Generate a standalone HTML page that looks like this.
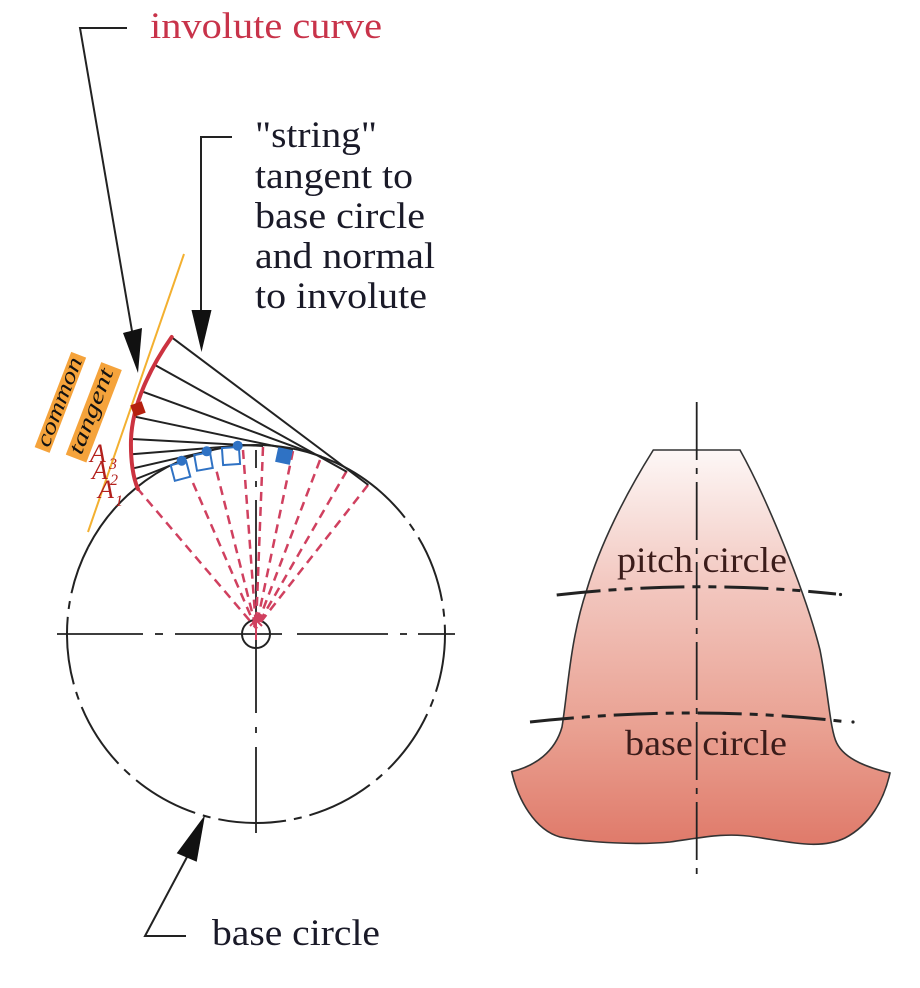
<!DOCTYPE html>
<html><head><meta charset="utf-8"><style>
html,body{margin:0;padding:0;background:#fff;}
svg{display:block;}
</style></head><body>
<svg width="920" height="988" viewBox="0 0 920 988" xmlns="http://www.w3.org/2000/svg">
<defs>
<linearGradient id="tg" x1="0" y1="450" x2="0" y2="850" gradientUnits="userSpaceOnUse">
<stop offset="0" stop-color="#fdf7f6"/>
<stop offset="0.35" stop-color="#f2c6be"/>
<stop offset="0.7" stop-color="#e9a091"/>
<stop offset="1" stop-color="#df7868"/>
</linearGradient>
</defs>

<!-- ===== Left diagram ===== -->
<!-- base circle -->
<path d="M88.2 547 A189 189 0 0 1 404.9 517.6" fill="none" stroke="#222" stroke-width="2"/>
<path d="M404.9 517.6 A189 189 0 1 1 88.2 547" fill="none" stroke="#222" stroke-width="2" stroke-dasharray="68 8 8 8" stroke-dashoffset="68"/>

<!-- centre lines -->
<g stroke="#222" stroke-width="1.8">
<line x1="57" y1="634" x2="143" y2="634"/>
<line x1="155" y1="634" x2="163" y2="634"/>
<line x1="175" y1="634" x2="282" y2="634"/>
<line x1="297" y1="634" x2="388" y2="634"/>
<line x1="400" y1="634" x2="407" y2="634"/>
<line x1="418" y1="634" x2="455" y2="634"/>
<line x1="256" y1="450" x2="256" y2="468"/>
<line x1="256" y1="481" x2="256" y2="487"/>
<line x1="256" y1="500" x2="256" y2="713"/>
<line x1="256" y1="727" x2="256" y2="733"/>
<line x1="256" y1="747" x2="256" y2="833"/>
</g>
<circle cx="256" cy="634" r="14" fill="none" stroke="#222" stroke-width="2"/>

<!-- red dashed radii -->
<g stroke="#d0405f" stroke-width="2.5" stroke-dasharray="9 6" fill="none">
<line x1="137" y1="488" x2="256" y2="628"/>
<line x1="193" y1="483" x2="256" y2="628"/>
<line x1="216.7" y1="471.7" x2="256" y2="628"/>
<line x1="243" y1="450" x2="256" y2="628"/>
<line x1="263" y1="447" x2="256" y2="628"/>
<line x1="293" y1="451" x2="256" y2="628"/>
<line x1="320" y1="460" x2="256" y2="628"/>
<line x1="346.7" y1="471" x2="256" y2="628"/>
<line x1="368" y1="485" x2="256" y2="628"/>
</g>
<g stroke="#d0405f" stroke-width="2" fill="none">
<line x1="256" y1="622" x2="256" y2="640"/>
<line x1="250" y1="626" x2="256" y2="620"/>
<line x1="262" y1="626" x2="256" y2="620"/>
</g>

<!-- strings -->
<g stroke="#222" stroke-width="2" fill="none">
<line x1="171.7" y1="337.3" x2="368.3" y2="485"/>
<line x1="155" y1="365" x2="346.7" y2="471.7"/>
<line x1="142.7" y1="391.7" x2="321.7" y2="456.7"/>
<line x1="135" y1="416.7" x2="293" y2="450"/>
<line x1="131.7" y1="439" x2="263" y2="446"/>
<line x1="131.7" y1="454.3" x2="237.7" y2="445.7"/>
<line x1="133.3" y1="468.3" x2="206.7" y2="451.5"/>
<line x1="136" y1="479" x2="181.7" y2="461"/>
</g>

<!-- involute curve -->
<path d="M171.7 337 C150 368 132 405 131 440 C130.5 460 133 478 138 489" fill="none" stroke="#cc3340" stroke-width="4" stroke-linecap="round"/>

<!-- orange common tangent -->
<line x1="184" y1="254" x2="88" y2="532" stroke="#f3b030" stroke-width="2"/>

<!-- red square marker -->
<rect x="-6" y="-6" width="12" height="12" fill="#b5200f" transform="translate(138,409) rotate(-20)"/>

<!-- blue markers -->
<g fill="none" stroke="#2f72c4" stroke-width="2">
<rect x="-8" y="-8" width="16" height="16" transform="translate(180.5,471) rotate(-15)"/>
<rect x="-8" y="-8" width="16" height="16" transform="translate(203.5,461.5) rotate(-10)"/>
<rect x="-8.5" y="-8.5" width="17" height="17" transform="translate(231,456) rotate(-4)"/>
</g>
<g fill="#2f72c4">
<circle cx="181.7" cy="460.7" r="5"/>
<circle cx="206.7" cy="451.3" r="5"/>
<circle cx="237.7" cy="445.7" r="5"/>
<rect x="-7.5" y="-7.5" width="15" height="15" transform="translate(284,456) rotate(12)"/>
</g>

<!-- rotated labels -->
<g transform="translate(60.4,402.4) rotate(-69)">
<rect x="-51" y="-8" width="102" height="16" fill="#f5a33b"/>
<text x="-47" y="5.5" font-family="Liberation Serif, serif" font-style="italic" font-size="22" textLength="94" lengthAdjust="spacingAndGlyphs" fill="#111">common</text>
</g>
<g transform="translate(93.8,412.3) rotate(-69)">
<rect x="-49.5" y="-11" width="99" height="22" fill="#f5a33b"/>
<text x="-45" y="4" font-family="Liberation Serif, serif" font-style="italic" font-size="22" textLength="90" lengthAdjust="spacingAndGlyphs" fill="#111">tangent</text>
</g>

<!-- A labels -->
<g font-family="Liberation Serif, serif" font-style="italic" fill="#b3201c">
<text x="90" y="462" font-size="26">A</text><text x="109" y="469" font-size="16">3</text>
<text x="92" y="479" font-size="26">A</text><text x="110" y="485" font-size="16">2</text>
<text x="98" y="498" font-size="26">A</text><text x="115" y="506" font-size="16">1</text>
</g>

<!-- leaders and arrows -->
<g stroke="#222" stroke-width="2" fill="none">
<polyline points="127,28 80,28 132,331"/>
<polyline points="232,137 201,137 201,312"/>
<polyline points="186,936 145,936 187,857"/>
</g>
<g fill="#111">
<polygon points="123,333 142,328 138,373"/>
<polygon points="191.5,310 211.5,310 201.5,352"/>
<polygon points="176.7,853.3 196.7,861.7 205,815"/>
</g>

<!-- text labels -->
<g font-family="Liberation Serif, serif" font-size="37">
<text x="150" y="38" fill="#c8334a" textLength="232" lengthAdjust="spacingAndGlyphs">involute curve</text>
<g fill="#1a1a28">
<text x="255" y="147" textLength="122" lengthAdjust="spacingAndGlyphs">"string"</text>
<text x="255" y="188" textLength="158" lengthAdjust="spacingAndGlyphs">tangent to</text>
<text x="255" y="228" textLength="170" lengthAdjust="spacingAndGlyphs">base circle</text>
<text x="255" y="268" textLength="180" lengthAdjust="spacingAndGlyphs">and normal</text>
<text x="255" y="308" textLength="172" lengthAdjust="spacingAndGlyphs">to involute</text>
<text x="212" y="945" textLength="168" lengthAdjust="spacingAndGlyphs">base circle</text>
</g>
</g>

<!-- ===== Right diagram: gear tooth ===== -->
<path d="M653.3 450 L740 450 C765 495 805 590 820 650 C828 690 830 730 836.7 743 C845 760 870 768 890 773 C884 800 870 825 845 838 C820 850 790 842 755 837 C725 832 700 838 670 842 C640 845 590 843 560 837 C535 830 518 800 511.7 771.7 C535 766 555 752 562 727 C568 690 570 640 586.7 590 C600 545 625 495 653.3 450 Z" fill="url(#tg)" stroke="#333" stroke-width="1.6"/>

<line x1="696.7" y1="402" x2="696.7" y2="880" stroke="#222" stroke-width="1.8" stroke-dasharray="58 8 6 8"/>

<path d="M556.7 595 Q696.7 579 836 594" fill="none" stroke="#222" stroke-width="3" stroke-dasharray="44 8 8 8 8 8"/>
<circle cx="840.5" cy="594.5" r="1.6" fill="#222"/>
<path d="M530 722 Q696.7 704 848 722" fill="none" stroke="#222" stroke-width="3" stroke-dasharray="44 8 8 8 8 8"/>
<circle cx="853" cy="722" r="1.6" fill="#222"/>

<g font-family="Liberation Serif, serif" font-size="36" fill="#3b1c1a">
<text x="617" y="572" textLength="170" lengthAdjust="spacingAndGlyphs">pitch circle</text>
<text x="625" y="755" textLength="162" lengthAdjust="spacingAndGlyphs">base circle</text>
</g>
</svg>
</body></html>
